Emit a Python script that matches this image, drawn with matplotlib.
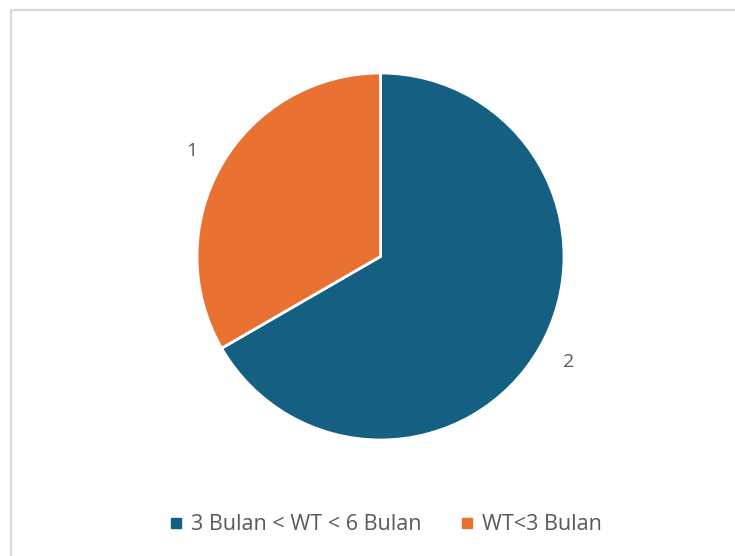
import matplotlib.pyplot as plt
from matplotlib.lines import Line2D
from matplotlib.patches import Rectangle

categories = ["3 Bulan < WT < 6 Bulan", "WT<3 Bulan"]
values = [2, 1]
value_labels = ["2", "1"]
colors = ["#156082", "#E97132"]

plt.rcParams['font.family'] = ['Open Sans', 'DejaVu Sans']

fig = plt.figure(figsize=(7.35, 5.56), dpi=100)

# chart area border (light grey, runs off the right/bottom edge)
fig.patches.append(Rectangle((11 / 735, -0.05), 1.1, 1 - 10.5 / 556 + 0.05,
                             transform=fig.transFigure, fill=False,
                             edgecolor="#d9d9d9", linewidth=1.6))

ax = fig.add_axes([197 / 735, 116 / 556, 367 / 735, 367 / 556])
wedges, texts = ax.pie(values, labels=value_labels, colors=colors,
                       startangle=90, counterclock=False, labeldistance=1.15,
                       wedgeprops=dict(edgecolor="white", linewidth=2),
                       textprops=dict(color="#595959", fontsize=14))
ax.set_xlim(-1, 1)
ax.set_ylim(-1, 1)
ax.set_aspect("equal")
ax.axis("off")

handles = [Line2D([], [], linestyle="none", marker="s", markersize=6.5,
                  markerfacecolor=c, markeredgecolor=c) for c in colors]
leg = fig.legend(handles, categories, loc="center", bbox_to_anchor=(0.525, 1 - 525 / 556),
                 ncol=2, frameon=False, fontsize=15.5, handlelength=0.6,
                 handletextpad=0.4, columnspacing=1.8, labelcolor="#595959")

fig.savefig("out.png", dpi=100)
